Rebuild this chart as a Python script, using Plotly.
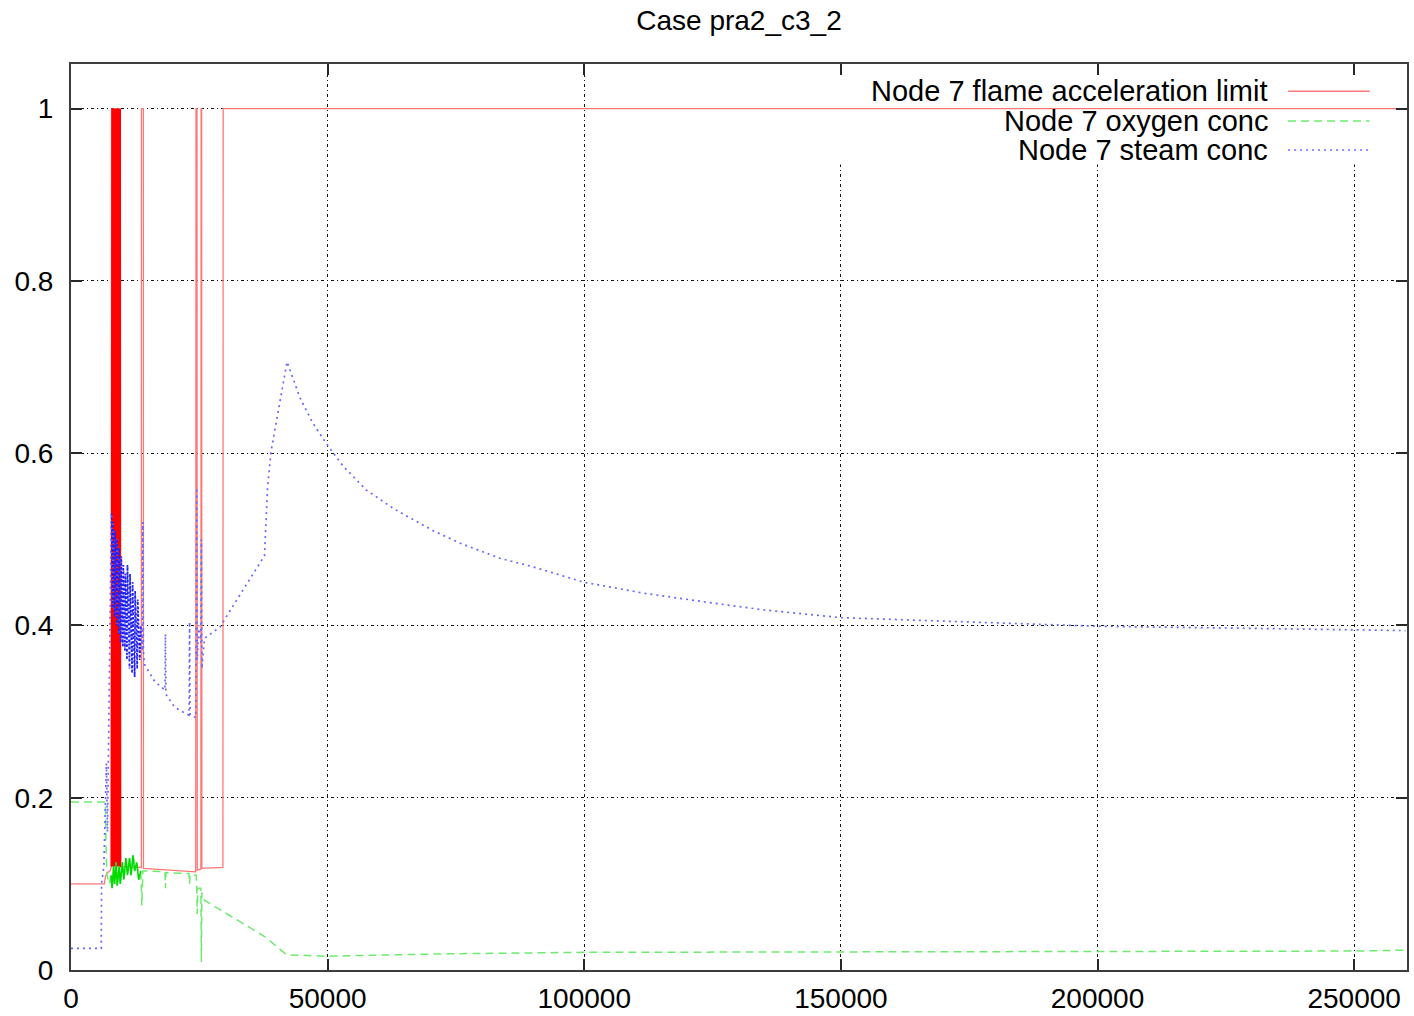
import plotly.graph_objects as go

# ---------------- data ----------------
flame_t = [0, 6500, 6700, 7000, 7700, 7850,
           7900, 7950, 8000, 8050, 8100, 8150, 8200, 8250, 8300, 8350, 8400, 8450,
           8500, 8550, 8600, 8650, 8700, 8750, 8800, 8850, 8900, 8950, 9000, 9050,
           9100, 9150, 9200, 9250, 9300, 9350, 9400, 9450, 9500, 9550, 9600, 9650,
           9700, 13700, 13720, 14100, 14120, 18300, 24300, 24350, 24550, 24600,
           25300, 25350, 25450, 25500, 29600, 29650, 260000]
flame_v = [0.100, 0.100, 0.108, 0.112, 0.116, 0.120,
           1.0, 0.12, 1.0, 0.12, 1.0, 0.12, 1.0, 0.12, 1.0, 0.12, 1.0, 0.12,
           1.0, 0.12, 1.0, 0.12, 1.0, 0.12, 1.0, 0.12, 1.0, 0.12, 1.0, 0.12,
           1.0, 0.12, 1.0, 0.12, 1.0, 0.12, 1.0, 0.12, 1.0, 0.12, 1.0, 0.12,
           0.120, 0.119, 1.0, 1.0, 0.118, 0.116, 0.114, 1.0, 1.0, 0.116,
           0.117, 1.0, 1.0, 0.118, 0.119, 1.0, 1.0]

oxygen_t = [0, 6700, 6800, 7000, 7500, 7800, 8000, 8300, 8500, 8800, 9000, 9400,
            9600, 10000, 10300, 10700, 11000, 11400, 11700, 12100, 12400, 12800,
            13200, 13600, 13800, 14000, 18300, 18400, 18500, 23000, 23100, 23200,
            24400, 24500, 24600, 24700, 25300, 25400, 25500, 26000, 37400, 38100,
            42000, 49800, 53700, 73200, 99800, 150000, 200000, 250000, 260000]
oxygen_v = [0.195, 0.195, 0.150, 0.110, 0.100, 0.110, 0.095, 0.120, 0.100, 0.125,
            0.098, 0.120, 0.100, 0.125, 0.105, 0.130, 0.110, 0.130, 0.110, 0.133,
            0.115, 0.125, 0.105, 0.115, 0.075, 0.115, 0.114, 0.095, 0.113, 0.112,
            0.100, 0.111, 0.110, 0.097, 0.065, 0.095, 0.095, 0.009, 0.090, 0.081,
            0.040, 0.037, 0.0177, 0.016, 0.0165, 0.0188, 0.0205, 0.021, 0.0215,
            0.022, 0.023]

steam_t = [0, 5900, 5950, 6400, 6900, 7100, 7400, 7600, 7800,
           7900, 8100, 8200, 8500, 8600, 8900, 9000, 9300, 9400, 9700, 9800,
           10100, 10200, 10500, 10600, 10900, 11000, 11400, 11500, 11900, 12000,
           12400, 12500, 12900, 13000, 13400, 13600, 13900, 14000, 14100,
           14300, 16300, 18300, 18400, 18500, 20200, 22500, 23000, 23100, 23200,
           24300, 24500, 24600, 24900, 25300, 25400, 25500, 26000, 26700, 29000,
           37700, 38300, 39000, 42100, 44560, 47000, 49760, 53000, 57560, 63000,
           70550, 76000, 83560, 90000, 100000, 112000, 125000, 135000, 150000,
           174000, 185000, 200000, 225000, 250000, 260000]
steam_v = [0.025, 0.025, 0.100, 0.120, 0.240, 0.160, 0.300, 0.450, 0.500,
           0.530, 0.420, 0.520, 0.410, 0.510, 0.400, 0.500, 0.390, 0.490, 0.380,
           0.480, 0.375, 0.470, 0.370, 0.460, 0.360, 0.470, 0.350, 0.460, 0.345,
           0.450, 0.340, 0.440, 0.350, 0.430, 0.360, 0.400, 0.370, 0.520, 0.370,
           0.355, 0.335, 0.325, 0.390, 0.320, 0.305, 0.297, 0.296, 0.404, 0.296,
           0.293, 0.560, 0.360, 0.400, 0.380, 0.500, 0.350, 0.385, 0.388, 0.398,
           0.481, 0.561, 0.603, 0.706, 0.665, 0.636, 0.611, 0.585, 0.557, 0.535,
           0.510, 0.495, 0.478, 0.468, 0.450, 0.437, 0.426, 0.418, 0.409,
           0.404, 0.402, 0.399, 0.397, 0.395, 0.394]

x_ticks = [0, 50000, 100000, 150000, 200000, 250000]
y_ticks = [0, 0.2, 0.4, 0.6, 0.8, 1.0]
y_tick_labels = ["0", "0.2", "0.4", "0.6", "0.8", "1"]

series_names = ["Node 7 flame acceleration limit", "Node 7 oxygen conc",
                "Node 7 steam conc"]
title_text = "Case pra2_c3_2"

# ---------------- styles ----------------
FONT = "Liberation Sans, Arial, sans-serif"
RED = "rgb(255,120,120)"
GREEN = "rgb(110,235,110)"
BLUE = "rgb(105,105,255)"
GRID = "rgb(20,20,20)"


def subset(ts, vs, lo, hi):
    idx = [i for i, t in enumerate(ts) if lo <= t <= hi]
    return [ts[i] for i in idx], [vs[i] for i in idx]


fig = go.Figure()

fig.add_trace(go.Scatter(x=flame_t, y=flame_v, mode="lines",
                         line=dict(color=RED, width=1.3),
                         name=series_names[0], showlegend=False))
bx, by = subset(flame_t, flame_v, 7850, 9700)
fig.add_trace(go.Scatter(x=bx, y=by, mode="lines",
                         line=dict(color="rgb(255,0,0)", width=1.5),
                         showlegend=False, hoverinfo="skip"))
fig.add_trace(go.Scatter(x=oxygen_t, y=oxygen_v, mode="lines",
                         line=dict(color=GREEN, width=1.5, dash="8px,5px"),
                         name=series_names[1], showlegend=False))
gx, gy = subset(oxygen_t, oxygen_v, 7800, 13600)
fig.add_trace(go.Scatter(x=gx, y=gy, mode="lines",
                         line=dict(color="rgb(0,220,0)", width=1.6),
                         showlegend=False, hoverinfo="skip"))
fig.add_trace(go.Scatter(x=steam_t, y=steam_v, mode="lines",
                         line=dict(color=BLUE, width=1.7, dash="2px,4px"),
                         name=series_names[2], showlegend=False))
sx, sy = subset(steam_t, steam_v, 7900, 13600)
fig.add_trace(go.Scatter(x=sx, y=sy, mode="lines",
                         line=dict(color="rgb(30,30,245)", width=1.6,
                                   dash="2px,2px"),
                         showlegend=False, hoverinfo="skip"))

# legend emulation (text right-aligned, sample line to the right)
legend_y = [0.970, 0.937, 0.905]
legend_styles = [dict(color=RED, width=1.5, dash="solid"),
                 dict(color=GREEN, width=1.5, dash="8px,5px"),
                 dict(color=BLUE, width=1.5, dash="2px,4px")]
# white key background hiding the grid (drawn between grid and traces)
shapes = [dict(type="rect", xref="x", yref="y", x0=147500, x1=259500,
               y0=0.935, y1=1.049, fillcolor="white", line=dict(width=0),
               layer="between")]
annotations = []
for name, yy, st in zip(series_names, legend_y, legend_styles):
    annotations.append(dict(text=name, xref="paper", yref="paper", x=0.8975,
                            y=yy, xanchor="right", yanchor="middle",
                            showarrow=False,
                            font=dict(family=FONT, size=29, color="black")))
    shapes.append(dict(type="line", xref="paper", yref="paper", x0=0.911,
                       x1=0.972, y0=yy, y1=yy, line=st, layer="above"))

fig.update_layout(
    width=1414, height=1016,
    margin=dict(l=71, r=7, t=64, b=46, autoexpand=False),
    paper_bgcolor="white", plot_bgcolor="white",
    font=dict(family=FONT, size=28, color="black"),
    title=dict(text=title_text, x=0.5, xref="paper", y=1 - 20 / 1016,
               yref="container", xanchor="center", yanchor="middle",
               font=dict(family=FONT, size=28, color="black")),
    showlegend=False,
    shapes=shapes,
    annotations=annotations,
)
fig.update_xaxes(range=[0, 260300], tickvals=x_ticks, tickformat="d",
                 automargin=False,
                 showgrid=True, gridcolor=GRID, gridwidth=1.2,
                 griddash="3px,3px,1px,3px", zeroline=False,
                 showline=True, linecolor="rgb(60,60,60)", linewidth=2,
                 mirror="ticks", ticks="inside", ticklen=11,
                 tickcolor="rgb(40,40,40)", tickwidth=1.5,
                 ticklabelstandoff=2,
                 tickfont=dict(family=FONT, size=28, color="black"))
fig.update_yaxes(range=[0, 1.0517], tickvals=y_ticks, ticktext=y_tick_labels,
                 automargin=False,
                 showgrid=True, gridcolor=GRID, gridwidth=1.2,
                 griddash="3px,3px,1px,3px", zeroline=False,
                 showline=True, linecolor="rgb(60,60,60)", linewidth=2,
                 mirror="ticks", ticks="inside", ticklen=11,
                 tickcolor="rgb(40,40,40)", tickwidth=1.5,
                 ticklabelstandoff=10,
                 tickfont=dict(family=FONT, size=28, color="black"))

# remove the default page margin so the figure sits at the window's corner
fig.write_html("out.html",
               config={"displayModeBar": False},
               post_script="document.body.style.margin='0';"
                           "document.body.style.overflow='hidden';")
